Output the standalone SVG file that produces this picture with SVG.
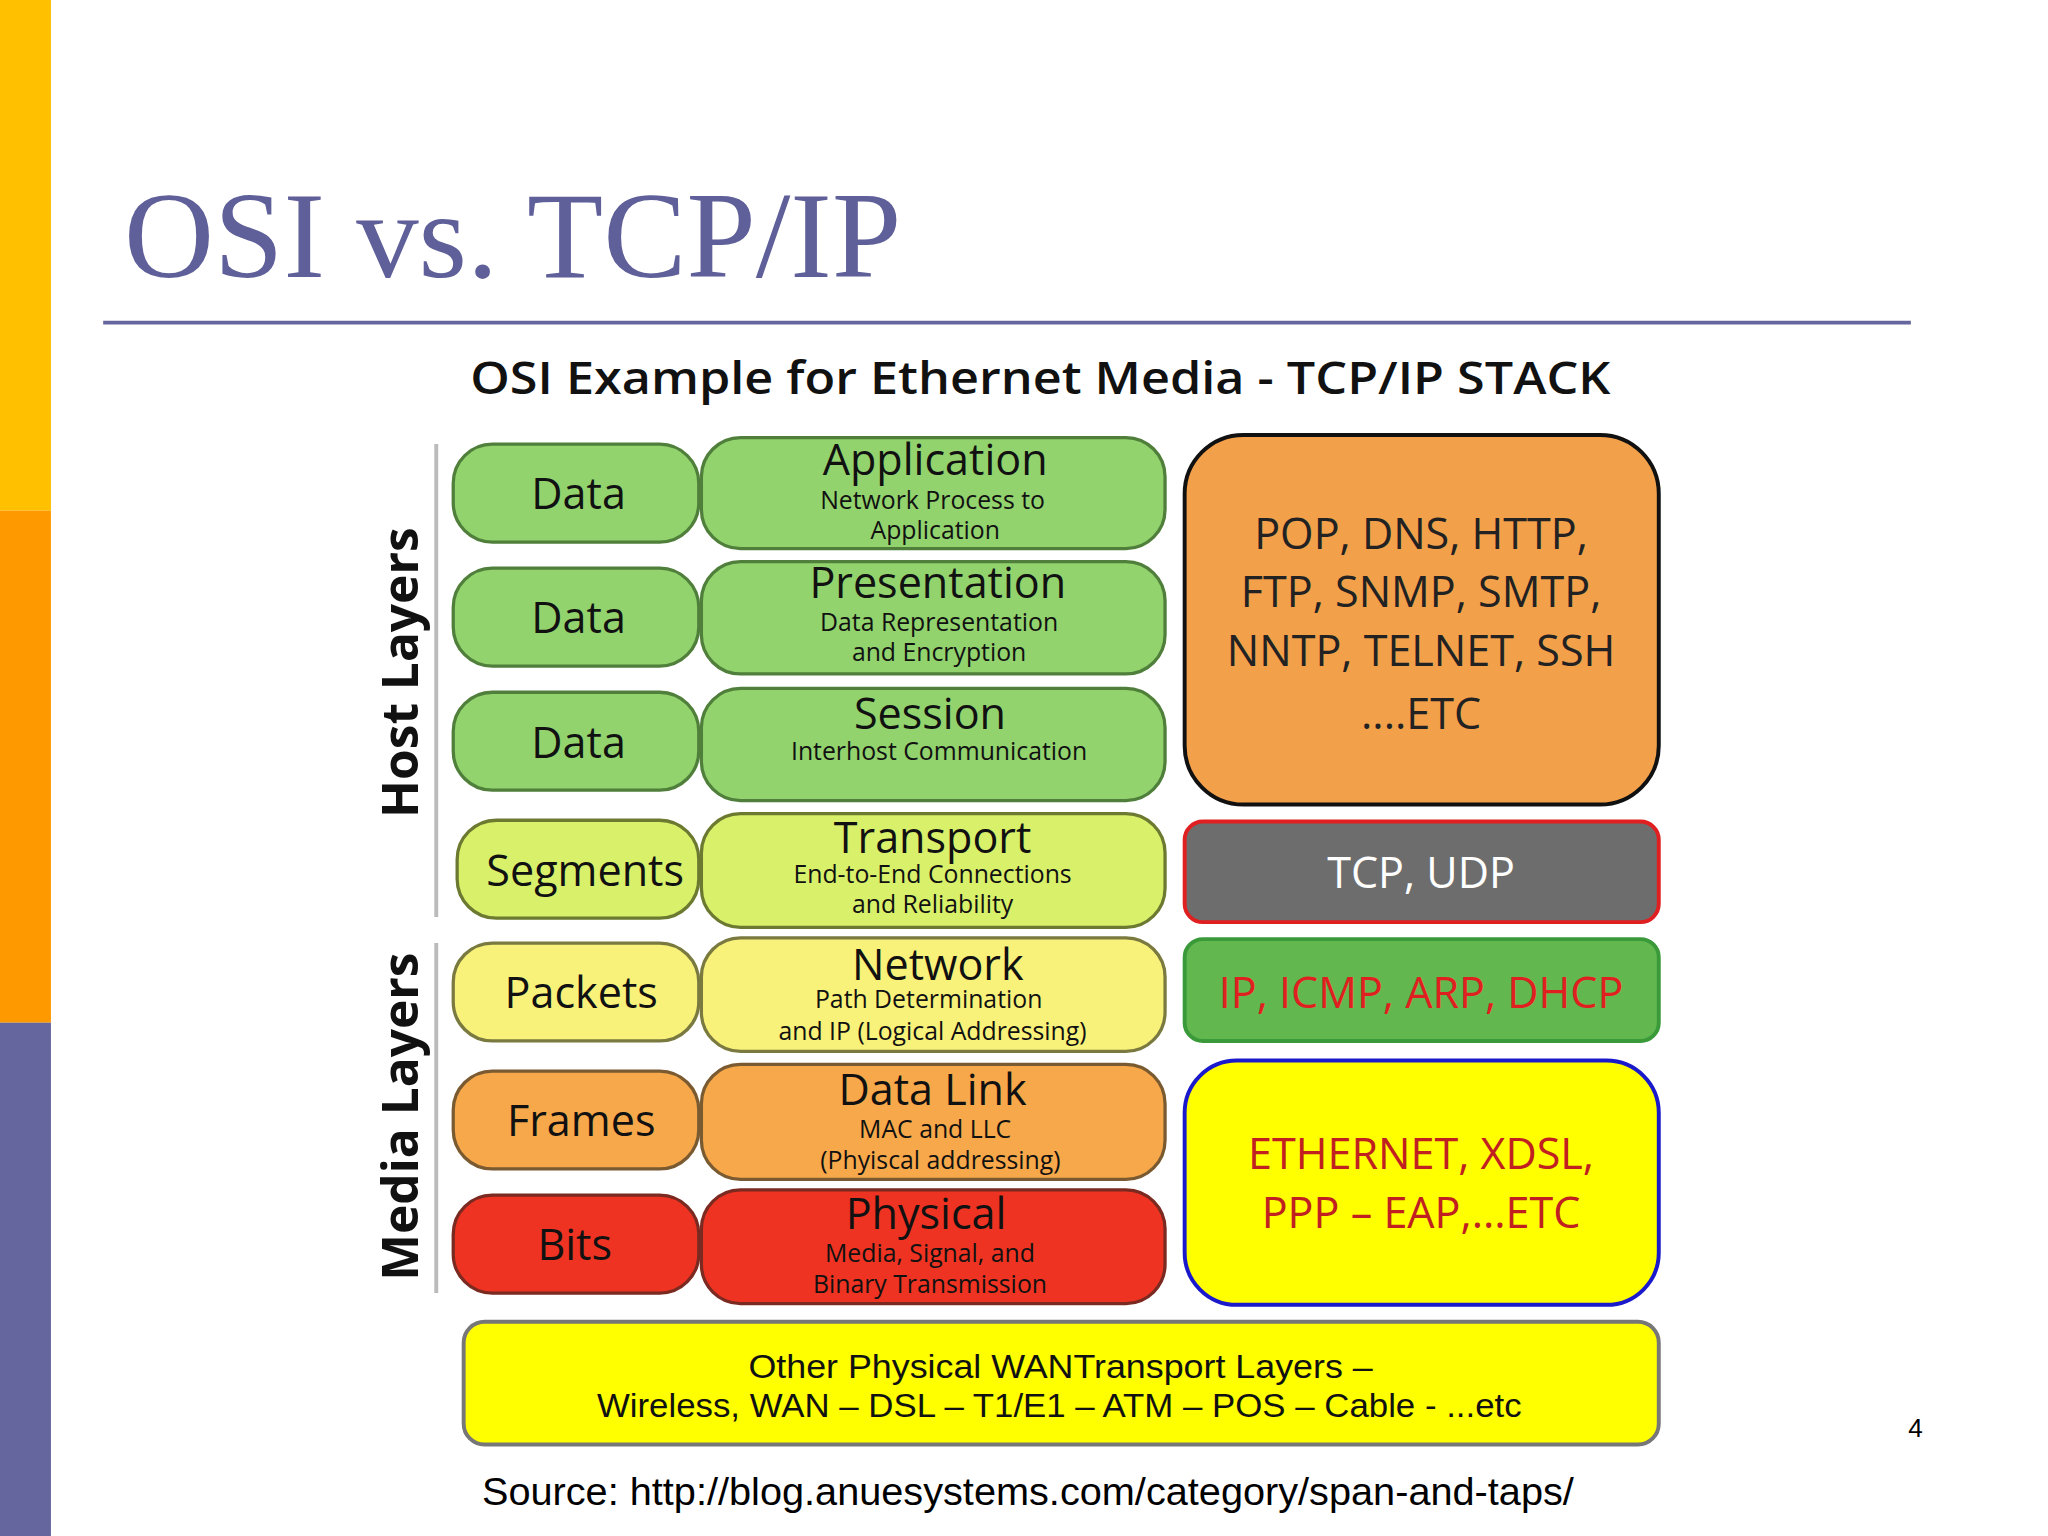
<svg xmlns="http://www.w3.org/2000/svg" width="2048" height="1536" viewBox="0 0 2048 1536">
<style>
.b{stroke-width:2.5}
.t{font-family:"Open Sans","Liberation Sans",sans-serif;text-anchor:middle;fill:#111}
.big{font-size:33px}
.sm{font-size:19px}
.r{font-family:"Open Sans","Liberation Sans",sans-serif;text-anchor:middle;font-size:33px}
</style>
<rect width="2048" height="1536" fill="#fff"/>
<g transform="scale(1.30612)">
<rect x="0" y="0" width="39" height="391" fill="#FFC000"/>
<rect x="0" y="391" width="39" height="392" fill="#FF9900"/>
<rect x="0" y="783" width="39" height="393" fill="#66669E"/>
<text x="95" y="212" font-family="Liberation Serif,serif" font-size="94" fill="#5F5F99" textLength="595" lengthAdjust="spacingAndGlyphs">OSI vs. TCP/IP</text>
<line x1="79" y1="247" x2="1463" y2="247" stroke="#66669E" stroke-width="3"/>
<text x="360" y="302" font-family="Open Sans,Liberation Sans,sans-serif" font-size="35" font-weight="600" fill="#111" textLength="873" lengthAdjust="spacingAndGlyphs">OSI Example for Ethernet Media - TCP/IP STACK</text>
<g id="sidebars">
<line x1="334" y1="340" x2="334" y2="702" stroke="#bbb" stroke-width="3"/>
<line x1="334" y1="722" x2="334" y2="990" stroke="#bbb" stroke-width="3"/>
<text transform="translate(320,515) rotate(-90)" class="t" font-size="38" font-weight="bold">Host Layers</text>
<text transform="translate(320,855) rotate(-90)" class="t" font-size="38" font-weight="bold">Media Layers</text>
</g>
<g id="n-data1"><rect x="347" y="340" width="188" height="75" rx="30" fill="#92D36E" stroke="#4f7f3a" class="b"/><text x="443" y="390" class="t big">Data</text></g>
<g id="n-data2"><rect x="347" y="435" width="188" height="75" rx="30" fill="#92D36E" stroke="#4f7f3a" class="b"/><text x="443" y="485" class="t big">Data</text></g>
<g id="n-data3"><rect x="347" y="530" width="188" height="75" rx="30" fill="#92D36E" stroke="#4f7f3a" class="b"/><text x="443" y="580" class="t big">Data</text></g>
<g id="n-seg"><rect x="350" y="628" width="185" height="75" rx="30" fill="#D8F06A" stroke="#6b7a30" class="b"/><text x="448" y="678" class="t big">Segments</text></g>
<g id="n-pkt"><rect x="347" y="722" width="188" height="75" rx="30" fill="#F9F27A" stroke="#7a7a40" class="b"/><text x="445" y="772" class="t big">Packets</text></g>
<g id="n-frm"><rect x="347" y="820" width="188" height="75" rx="30" fill="#F7A84A" stroke="#7a5a30" class="b"/><text x="445" y="870" class="t big">Frames</text></g>
<g id="n-bits"><rect x="347" y="915" width="188" height="75" rx="30" fill="#EE3322" stroke="#7a2a20" class="b"/><text x="440" y="965" class="t big">Bits</text></g>

<g id="n-app"><rect x="537" y="335" width="355" height="85" rx="30" fill="#92D36E" stroke="#4f7f3a" class="b"/><text x="716" y="364" class="t big">Application</text><text x="714" y="390" class="t sm">Network Process to</text><text x="716" y="413" class="t sm">Application</text></g>
<g id="n-pres"><rect x="537" y="430" width="355" height="86" rx="30" fill="#92D36E" stroke="#4f7f3a" class="b"/><text x="718" y="458" class="t big">Presentation</text><text x="719" y="483" class="t sm">Data Representation</text><text x="719" y="506" class="t sm">and Encryption</text></g>
<g id="n-sess"><rect x="537" y="527" width="355" height="86" rx="30" fill="#92D36E" stroke="#4f7f3a" class="b"/><text x="712" y="558" class="t big">Session</text><text x="719" y="582" class="t sm">Interhost Communication</text></g>
<g id="n-trans"><rect x="537" y="623" width="355" height="87" rx="30" fill="#D8F06A" stroke="#6b7a30" class="b"/><text x="714" y="653" class="t big">Transport</text><text x="714" y="676" class="t sm">End-to-End Connections</text><text x="714" y="699" class="t sm">and Reliability</text></g>
<g id="n-net"><rect x="537" y="718" width="355" height="87" rx="30" fill="#F9F27A" stroke="#7a7a40" class="b"/><text x="718" y="750" class="t big">Network</text><text x="711" y="772" class="t sm">Path Determination</text><text x="714" y="796" class="t sm">and IP (Logical Addressing)</text></g>
<g id="n-dl"><rect x="537" y="815" width="355" height="88" rx="30" fill="#F7A84A" stroke="#7a5a30" class="b"/><text x="714" y="846" class="t big">Data Link</text><text x="716" y="871" class="t sm">MAC and LLC</text><text x="720" y="895" class="t sm">(Phyiscal addressing)</text></g>
<g id="n-phys"><rect x="537" y="911" width="355" height="87" rx="30" fill="#EE3322" stroke="#7a2a20" class="b"/><text x="709" y="941" class="t big">Physical</text><text x="712" y="966" class="t sm">Media, Signal, and</text><text x="712" y="990" class="t sm">Binary Transmission</text></g>

<g id="n-apps"><rect x="907" y="333" width="363" height="283" rx="45" fill="#F3A04A" stroke="#111" stroke-width="3"/>
<text class="r" fill="#222"><tspan x="1088" y="420">POP, DNS, HTTP,</tspan><tspan x="1088" y="465">FTP, SNMP, SMTP,</tspan><tspan x="1088" y="510">NNTP, TELNET, SSH</tspan><tspan x="1088" y="558">....ETC</tspan></text></g>
<g id="n-tcp"><rect x="907" y="629" width="363" height="77" rx="14" fill="#6D6D6D" stroke="#e02020" stroke-width="3"/><text x="1088" y="680" class="r" fill="#fff">TCP, UDP</text></g>
<g id="n-ip"><rect x="907" y="719" width="363" height="78" rx="14" fill="#62B84E" stroke="#3a9a3a" stroke-width="3"/><text x="1088" y="772" class="r" fill="#e02020">IP, ICMP, ARP, DHCP</text></g>
<g id="n-eth"><rect x="907" y="812" width="363" height="187" rx="40" fill="#FFFF00" stroke="#1a1acc" stroke-width="3"/><text class="r" fill="#c02020"><tspan x="1088" y="895">ETHERNET, XDSL,</tspan><tspan x="1088" y="940">PPP – EAP,...ETC</tspan></text></g>
<g id="n-wan"><rect x="355" y="1012" width="915" height="94" rx="16" fill="#FFFF00" stroke="#777" stroke-width="3"/><text x="573" y="1055" font-family="Liberation Sans,sans-serif" font-size="25" fill="#111" textLength="478" lengthAdjust="spacingAndGlyphs">Other Physical WANTransport Layers –</text><text x="457" y="1085" font-family="Liberation Sans,sans-serif" font-size="25" fill="#111" textLength="708" lengthAdjust="spacingAndGlyphs">Wireless, WAN – DSL – T1/E1 – ATM – POS – Cable - ...etc</text></g>
<g id="connectors"></g>
<text x="369" y="1152" font-family="Liberation Sans,Arial,sans-serif" font-size="29" fill="#000" textLength="836" lengthAdjust="spacingAndGlyphs">Source: http://blog.anuesystems.com/category/span-and-taps/</text>
<text x="1461" y="1100" font-family="Liberation Sans,Arial,sans-serif" font-size="20" fill="#000">4</text>
</g>
</svg>
